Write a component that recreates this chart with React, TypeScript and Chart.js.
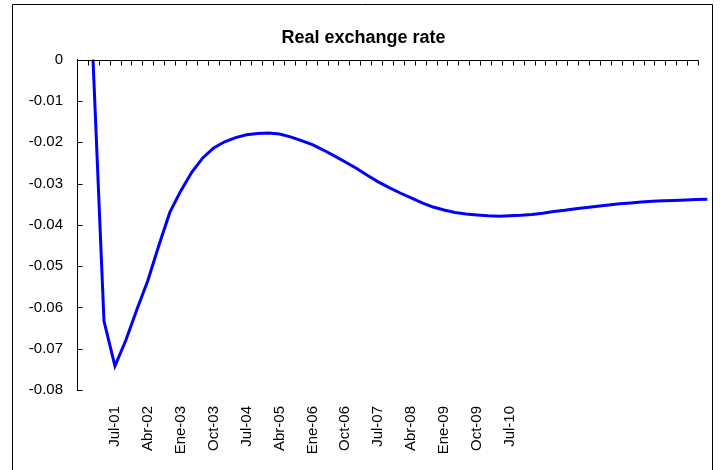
import React, { useEffect, useRef } from "react";
import { Chart, registerables } from "chart.js";

Chart.register(...registerables);

const categories = [
  "Ene-01", "Abr-01", "Jul-01", "Oct-01", "Ene-02", "Abr-02", "Jul-02", "Oct-02",
  "Ene-03", "Abr-03", "Jul-03", "Oct-03", "Ene-04", "Abr-04", "Jul-04", "Oct-04",
  "Ene-05", "Abr-05", "Jul-05", "Oct-05", "Ene-06", "Abr-06", "Jul-06", "Oct-06",
  "Ene-07", "Abr-07", "Jul-07", "Oct-07", "Ene-08", "Abr-08", "Jul-08", "Oct-08",
  "Ene-09", "Abr-09", "Jul-09", "Oct-09", "Ene-10", "Abr-10", "Jul-10", "Oct-10",
  "Ene-11", "Abr-11", "Jul-11", "Oct-11", "Ene-12", "Abr-12", "Jul-12", "Oct-12",
  "Ene-13", "Abr-13", "Jul-13", "Oct-13", "Ene-14", "Abr-14", "Jul-14", "Oct-14",
  "Ene-15",
];

const realExchangeRate = [
  0, -0.0633, -0.0742, -0.0679, -0.0605, -0.0535, -0.045, -0.037, -0.0318, -0.0273,
  -0.0238, -0.0214, -0.0199, -0.0189, -0.0182, -0.0179, -0.0178, -0.018, -0.0187, -0.0196,
  -0.0206, -0.0219, -0.0233, -0.0248, -0.0263, -0.028, -0.0296, -0.031, -0.0323, -0.0335,
  -0.0347, -0.0357, -0.0364, -0.037, -0.0374, -0.0376, -0.0378, -0.0379, -0.0378, -0.0377,
  -0.0375, -0.0372, -0.0368, -0.0365, -0.0361, -0.0358, -0.0355, -0.0352, -0.0349, -0.0347,
  -0.0345, -0.0343, -0.0342, -0.0341, -0.034, -0.0339, -0.0338,
];

const xTickLabels = [
  "Jul-01", "Abr-02", "Ene-03", "Oct-03", "Jul-04", "Abr-05", "Ene-06",
  "Oct-06", "Jul-07", "Abr-08", "Ene-09", "Oct-09", "Jul-10",
];

const yTickValues = [0, -0.01, -0.02, -0.03, -0.04, -0.05, -0.06, -0.07, -0.08];

const FONT = "'Liberation Sans', Arial, sans-serif";
const X_MIN = -1.46;
const X_MAX = 55.15;
const TOP_TICK_COUNT = 57;

const decorPlugin = {
  id: "decor",
  beforeDraw(chart: any) {
    const ctx = chart.ctx;
    ctx.save();
    ctx.fillStyle = "#ffffff";
    ctx.fillRect(0, 0, chart.width, chart.height);
    ctx.strokeStyle = "#000000";
    ctx.lineWidth = 1;
    ctx.beginPath();
    ctx.moveTo(12.5, chart.height + 5);
    ctx.lineTo(12.5, 4.5);
    ctx.lineTo(712.5, 4.5);
    ctx.lineTo(712.5, chart.height + 5);
    ctx.stroke();
    ctx.restore();
  },
  afterDraw(chart: any) {
    const ctx = chart.ctx;
    const area = chart.chartArea;
    const xs = chart.scales.x;
    const ys = chart.scales.y;
    ctx.save();
    ctx.strokeStyle = "#000000";
    ctx.lineWidth = 1;
    const top = Math.round(area.top) + 0.5;
    ctx.beginPath();
    ctx.moveTo(Math.round(area.left) + 0.5, top);
    ctx.lineTo(Math.round(area.right) + 0.5, top);
    for (let k = 0; k <= TOP_TICK_COUNT; k++) {
      const v = X_MIN + (k * (X_MAX - X_MIN)) / TOP_TICK_COUNT;
      const px = Math.round(xs.getPixelForValue(v)) + 0.5;
      ctx.moveTo(px, top);
      ctx.lineTo(px, top + 5);
    }
    const left = Math.round(area.left) + 0.5;
    for (const t of yTickValues) {
      const py = Math.round(ys.getPixelForValue(t)) + 0.5;
      ctx.moveTo(left, py);
      ctx.lineTo(left + 5, py);
    }
    ctx.stroke();
    ctx.restore();
  },
};

export default function App() {
  const ref = useRef<HTMLCanvasElement | null>(null);

  useEffect(() => {
    if (!ref.current) return;
    const points = realExchangeRate.map((v, i) => ({ x: i, y: v }));
    const chart = new Chart(ref.current, {
      type: "line",
      data: {
        datasets: [
          {
            label: "Real exchange rate",
            data: points,
            borderColor: "#0000ff",
            borderWidth: 3,
            pointRadius: 0,
            tension: 0,
            fill: false,
            clip: false as any,
          },
        ],
      },
      options: {
        animation: false,
        responsive: false,
        layout: { padding: { left: 29, top: 4, right: 22, bottom: 0 } },
        plugins: {
          legend: { display: false },
          tooltip: { enabled: false },
          title: {
            display: true,
            text: "Real exchange rate",
            color: "#000000",
            font: { family: FONT, size: 18, weight: "bold" },
            padding: { top: 23, bottom: 11 },
          },
        },
        scales: {
          x: {
            type: "linear",
            min: X_MIN,
            max: X_MAX,
            grid: { display: false },
            border: { display: false },
            afterBuildTicks: (scale: any) => {
              scale.ticks = xTickLabels.map((l) => ({ value: categories.indexOf(l) }));
            },
            afterFit: (scale: any) => {
              scale.height = 80;
            },
            ticks: {
              autoSkip: false,
              minRotation: 90,
              maxRotation: 90,
              padding: 8,
              color: "#000000",
              font: { family: FONT, size: 15 },
              callback: (value: any) => categories[Math.round(Number(value))] ?? "",
            },
          },
          y: {
            type: "linear",
            min: -0.08,
            max: 0,
            grid: { display: true, drawOnChartArea: false, drawTicks: false },
            border: { display: true, color: "#000000", width: 1 },
            afterBuildTicks: (scale: any) => {
              scale.ticks = yTickValues.map((v) => ({ value: v }));
            },
            afterFit: (scale: any) => {
              scale.width = 48;
            },
            ticks: {
              padding: 14,
              color: "#000000",
              font: { family: FONT, size: 15 },
              callback: (value: any) => String(Number(Number(value).toFixed(2))),
            },
          },
        },
      },
      plugins: [decorPlugin],
    });
    return () => chart.destroy();
  }, []);

  return (
    <div style={{ position: "fixed", left: 0, top: 0, width: 720, height: 470, background: "#fff" }}>
      <canvas ref={ref} width={720} height={470} style={{ width: 720, height: 470, display: "block" }} />
    </div>
  );
}
